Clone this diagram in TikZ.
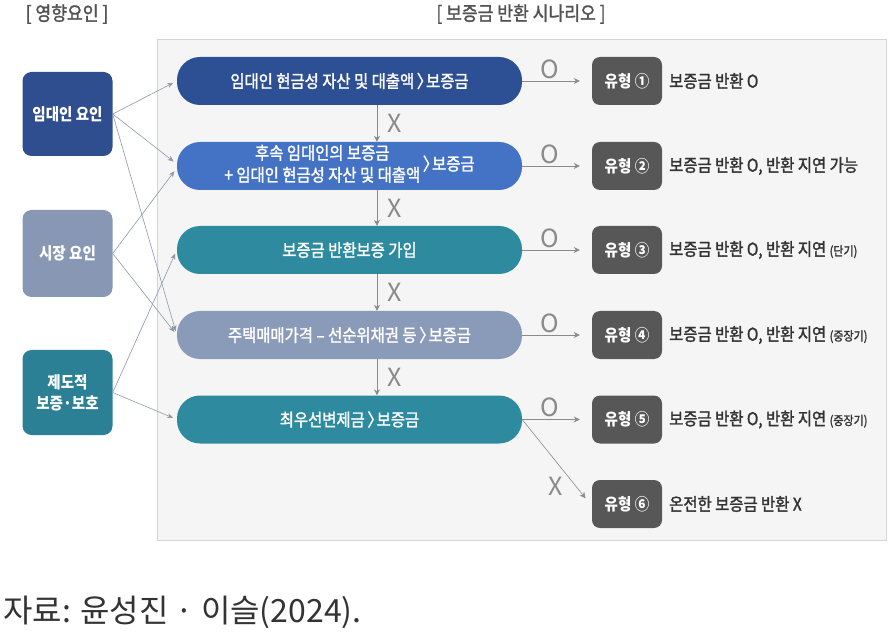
\documentclass[tikz,border=0pt]{standalone}
\usepackage{fontspec}
\setmainfont{Noto Sans CJK KR}[FakeStretch=0.88]
\newfontfamily\headfont{Noto Sans CJK KR}
\newfontfamily\medfont{Noto Sans CJK KR}[FakeStretch=0.88, FakeBold=1.6]
\usepackage{tikz}
\usetikzlibrary{arrows.meta}

\definecolor{lessorblue}{HTML}{2F4E8F}
\definecolor{marketgray}{HTML}{8797B4}
\definecolor{instteal}{HTML}{2C8096}
\definecolor{pilldark}{HTML}{2D4F93}
\definecolor{pilllight}{HTML}{4472C4}
\definecolor{pillteal}{HTML}{2E8A9F}
\definecolor{pillgray}{HTML}{8A9AB9}
\definecolor{typegray}{HTML}{575757}
\definecolor{panelbg}{HTML}{F5F5F5}
\definecolor{panelline}{HTML}{D4D4D4}
\definecolor{linkgray}{HTML}{8E97A8}
\definecolor{arrowgray}{HTML}{8A8A8A}
\definecolor{descgray}{HTML}{333333}

\newcommand{\gtsign}{\hspace{0.15em}〉\hspace{-0.35em}}

\begin{document}
\begin{tikzpicture}[x=1pt, y=-1pt,
  factor/.style={rounded corners=9pt, minimum width=90pt, align=center, text=white, inner sep=0pt,
    font=\fontsize{16.5}{21}\selectfont\bfseries},
  pill/.style={rounded corners=23pt, minimum width=345pt, minimum height=48pt, text=white, inner sep=0pt,
    font=\medfont\fontsize{17.5}{22}\selectfont},
  typebox/.style={fill=typegray, rounded corners=8pt, minimum width=70pt, minimum height=48pt, text=white,
    inner sep=0pt, font=\fontsize{16.5}{18}\selectfont\bfseries},
  result/.style={anchor=west, text=descgray, inner sep=0pt, font=\medfont\fontsize{17.5}{18}\selectfont},
  link/.style={draw=linkgray, line width=0.6pt, -{Stealth[length=6pt,width=5pt]}, shorten >=4pt},
  flow/.style={draw=arrowgray, line width=0.8pt, -{Stealth[length=6pt,width=6pt]}},
  oxlabel/.style={text=arrowgray, inner sep=1pt, font=\headfont\fontsize{25}{25}\selectfont},
  heading/.style={text=descgray!85, font=\medfont\fontsize{19.5}{20}\selectfont}
]
\useasboundingbox (0,0) rectangle (889,636);

% HEADINGS
\node [heading] (hfactor) at (67, 14) {[ 영향요인 ]};
\node [heading] (hscenario) at (521, 14) {[ 보증금 반환 시나리오 ]};

% PANEL
\draw [draw=panelline, fill=panelbg] (157, 39) rectangle (886, 540);

% LEFT COLUMN
\node [factor, fill=lessorblue, minimum height=84pt] (lessor) at (67.5, 114) {임대인 요인};
\node [factor, fill=marketgray, minimum height=87pt] (market) at (67.5, 253.5) {시장 요인};
\node [factor, fill=instteal, minimum height=85pt] (inst) at (67.5, 392.5) {제도적\\보증·보호};

% SCENARIOS
\node [pill, fill=pilldark] (p1) at (349.5, 81) {임대인 현금성 자산 및 대출액\gtsign 보증금};
\node [pill, fill=pilllight] (p2) at (349.5, 166) {\begin{tabular}{@{}c@{}}후속 임대인의 보증금\\+ 임대인 현금성 자산 및 대출액\end{tabular}\gtsign 보증금};
\node [pill, fill=pillteal] (p3) at (349.5, 250) {보증금 반환보증 가입};
\node [pill, fill=pillgray] (p4) at (349.5, 335) {주택매매가격 – 선순위채권 등\gtsign 보증금};
\node [pill, fill=pillteal] (p5) at (349.5, 419.5) {최우선변제금\gtsign 보증금};

% TYPES
\node [typebox] (t1) at (627, 81) {유형 ①};
\node [typebox] (t2) at (627, 166) {유형 ②};
\node [typebox] (t3) at (627, 250) {유형 ③};
\node [typebox] (t4) at (627, 335) {유형 ④};
\node [typebox] (t5) at (627, 419.5) {유형 ⑤};
\node [typebox] (t6) at (627, 504) {유형 ⑥};

\node [result] (r1) at (669, 81) {보증금 반환 O};
\node [result] (r2) at (669, 166) {보증금 반환 O, 반환 지연 가능};
\node [result] (r3) at (669, 250) {보증금 반환 O, 반환 지연 {\fontsize{12.5}{14}\selectfont(단기)}};
\node [result] (r4) at (669, 335) {보증금 반환 O, 반환 지연 {\fontsize{12.5}{14}\selectfont(중장기)}};
\node [result] (r5) at (669, 419.5) {보증금 반환 O, 반환 지연 {\fontsize{12.5}{14}\selectfont(중장기)}};
\node [result] (r6) at (669, 504) {온전한 보증금 반환 X};

% FACTOR LINKS
\draw [link] (lessor.east) -- (p1.west);
\draw [link] (lessor.east) -- ([yshift=2pt]p2.west);
\draw [link] (lessor.east) -- (p4.west);
\draw [link] (market.east) -- ([yshift=-2pt]p2.west);
\draw [link] (market.east) -- (p4.west);
\draw [link] (inst.east) -- (p3.west);
\draw [link] (inst.east) -- (p5.west);

% DOWNWARD (X)
\draw [flow] ([xshift=27.5pt]p1.south) -- ([xshift=27.5pt]p2.north) node [oxlabel, midway, right=9pt] {X};
\draw [flow] ([xshift=27.5pt]p2.south) -- ([xshift=27.5pt]p3.north) node [oxlabel, midway, right=9pt] {X};
\draw [flow] ([xshift=27.5pt]p3.south) -- ([xshift=27.5pt]p4.north) node [oxlabel, midway, right=9pt] {X};
\draw [flow] ([xshift=27.5pt]p4.south) -- ([xshift=27.5pt]p5.north) node [oxlabel, midway, right=9pt] {X};

% RIGHTWARD (O)
\draw [flow, shorten >=12pt] (p1.east) -- (t1.west) node [oxlabel, pos=0.39, above=1pt] {O};
\draw [flow, shorten >=12pt] (p2.east) -- (t2.west) node [oxlabel, pos=0.39, above=1pt] {O};
\draw [flow, shorten >=12pt] (p3.east) -- (t3.west) node [oxlabel, pos=0.39, above=1pt] {O};
\draw [flow, shorten >=12pt] (p4.east) -- (t4.west) node [oxlabel, pos=0.39, above=1pt] {O};
\draw [flow, shorten >=12pt] (p5.east) -- (t5.west) node [oxlabel, pos=0.39, above=1pt] {O};
\draw [flow, line width=0.6pt, shorten >=10pt] (p5.east) -- ([yshift=-2pt]t6.west) node [oxlabel, pos=0.77, left=12pt] {X};

% SOURCE
\node [anchor=west, inner sep=0pt, text=descgray, font=\headfont\fontsize{32}{34}\selectfont] (src) at (3, 612) {자료: 윤성진 · 이슬(2024).};
\end{tikzpicture}
\end{document}
